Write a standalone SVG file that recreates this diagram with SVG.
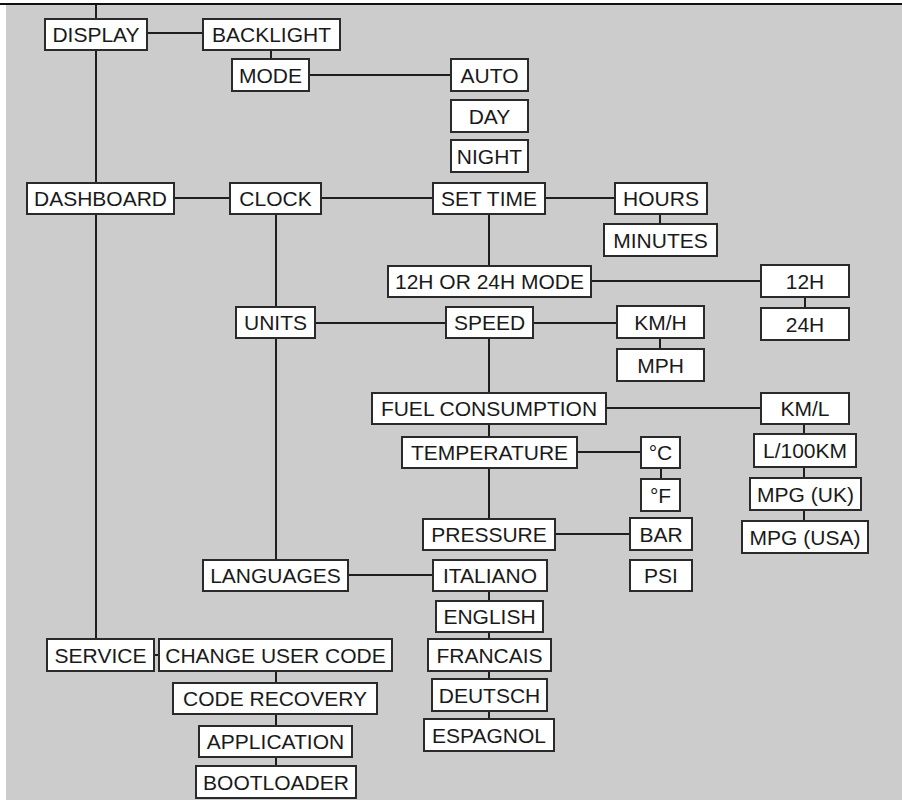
<svg xmlns="http://www.w3.org/2000/svg" width="902" height="800" viewBox="0 0 902 800">
<style>
.n rect{fill:#fff;stroke:#2a2a2a;stroke-width:2}
.n text{font-family:"Liberation Sans",Arial,sans-serif;font-size:21px;fill:#1a1a1a;text-anchor:middle}
#connectors line{stroke:#1e1e1e;stroke-width:2}
</style>
<rect x="0" y="0" width="902" height="800" fill="#fff"/>
<rect x="6" y="5" width="896" height="795" fill="#cccccc"/>
<line x1="0" y1="4" x2="902" y2="4" stroke="#111" stroke-width="2"/>
<g id="connectors">
<line x1="96" y1="5" x2="96" y2="19"/>
<line x1="96" y1="50" x2="96" y2="183"/>
<line x1="96" y1="214" x2="96" y2="639"/>
<line x1="147" y1="33" x2="203" y2="33"/>
<line x1="271" y1="50" x2="271" y2="59"/>
<line x1="309" y1="75" x2="451" y2="75"/>
<line x1="174" y1="198" x2="230" y2="198"/>
<line x1="321" y1="198" x2="433" y2="198"/>
<line x1="545" y1="198" x2="615" y2="198"/>
<line x1="660" y1="214" x2="660" y2="224"/>
<line x1="489" y1="214" x2="489" y2="266"/>
<line x1="591" y1="281" x2="761" y2="281"/>
<line x1="805" y1="297" x2="805" y2="308"/>
<line x1="276" y1="214" x2="276" y2="307"/>
<line x1="315" y1="323" x2="446" y2="323"/>
<line x1="533" y1="323" x2="617" y2="323"/>
<line x1="660" y1="338" x2="660" y2="349"/>
<line x1="489" y1="338" x2="489" y2="393"/>
<line x1="606" y1="408" x2="761" y2="408"/>
<line x1="804" y1="424" x2="804" y2="434"/>
<line x1="804" y1="467" x2="804" y2="478"/>
<line x1="804" y1="510" x2="804" y2="521"/>
<line x1="489" y1="424" x2="489" y2="437"/>
<line x1="577" y1="452" x2="641" y2="452"/>
<line x1="661" y1="468" x2="661" y2="479"/>
<line x1="489" y1="468" x2="489" y2="519"/>
<line x1="555" y1="534" x2="630" y2="534"/>
<line x1="276" y1="338" x2="276" y2="560"/>
<line x1="348" y1="575" x2="433" y2="575"/>
<line x1="489" y1="591" x2="489" y2="601"/>
<line x1="489" y1="632" x2="489" y2="639"/>
<line x1="489" y1="671" x2="489" y2="679"/>
<line x1="489" y1="711" x2="489" y2="719"/>
<line x1="154" y1="655" x2="159" y2="655"/>
<line x1="276" y1="671" x2="276" y2="683"/>
<line x1="276" y1="714" x2="276" y2="726"/>
<line x1="276" y1="757" x2="276" y2="766"/>
</g>
<g id="display" class="n"><rect x="45" y="19" width="102" height="31"/><text x="96" y="42">DISPLAY</text></g>
<g id="backlight" class="n"><rect x="203" y="19" width="137" height="31"/><text x="271.5" y="42">BACKLIGHT</text></g>
<g id="mode" class="n"><rect x="232" y="59" width="77" height="32"/><text x="270.5" y="83">MODE</text></g>
<g id="auto" class="n"><rect x="451" y="59" width="77" height="32"/><text x="489.5" y="83">AUTO</text></g>
<g id="day" class="n"><rect x="451" y="100" width="77" height="32"/><text x="489.5" y="124">DAY</text></g>
<g id="night" class="n"><rect x="451" y="140" width="77" height="32"/><text x="489.5" y="164">NIGHT</text></g>
<g id="dashboard" class="n"><rect x="27" y="183" width="147" height="31"/><text x="100.5" y="206">DASHBOARD</text></g>
<g id="clock" class="n"><rect x="230" y="183" width="91" height="31"/><text x="275.5" y="206">CLOCK</text></g>
<g id="settime" class="n"><rect x="433" y="183" width="112" height="31"/><text x="489" y="206">SET TIME</text></g>
<g id="hours" class="n"><rect x="615" y="183" width="92" height="31"/><text x="661" y="206">HOURS</text></g>
<g id="minutes" class="n"><rect x="604" y="224" width="113" height="32"/><text x="660.5" y="248">MINUTES</text></g>
<g id="mode1224" class="n"><rect x="388" y="266" width="203" height="31"/><text x="489.5" y="289">12H OR 24H MODE</text></g>
<g id="h12" class="n"><rect x="761" y="265" width="88" height="32"/><text x="805" y="289">12H</text></g>
<g id="h24" class="n"><rect x="761" y="308" width="88" height="32"/><text x="805" y="332">24H</text></g>
<g id="units" class="n"><rect x="236" y="307" width="79" height="31"/><text x="275.5" y="330">UNITS</text></g>
<g id="speed" class="n"><rect x="446" y="307" width="87" height="31"/><text x="489.5" y="330">SPEED</text></g>
<g id="kmh" class="n"><rect x="617" y="306" width="87" height="32"/><text x="660.5" y="330">KM/H</text></g>
<g id="mph" class="n"><rect x="617" y="349" width="87" height="32"/><text x="660.5" y="373">MPH</text></g>
<g id="fuel" class="n"><rect x="372" y="393" width="234" height="31"/><text x="489" y="416">FUEL CONSUMPTION</text></g>
<g id="kml" class="n"><rect x="761" y="393" width="88" height="31"/><text x="805" y="416">KM/L</text></g>
<g id="l100km" class="n"><rect x="754" y="434" width="102" height="33"/><text x="805" y="458">L/100KM</text></g>
<g id="mpguk" class="n"><rect x="750" y="478" width="111" height="32"/><text x="805.5" y="502">MPG (UK)</text></g>
<g id="mpgusa" class="n"><rect x="742" y="521" width="126" height="32"/><text x="805" y="545">MPG (USA)</text></g>
<g id="temperature" class="n"><rect x="402" y="437" width="175" height="31"/><text x="489.5" y="460">TEMPERATURE</text></g>
<g id="degc" class="n"><rect x="641" y="437" width="39" height="31"/><text x="660.5" y="460">°C</text></g>
<g id="degf" class="n"><rect x="641" y="479" width="39" height="32"/><text x="660.5" y="503">°F</text></g>
<g id="pressure" class="n"><rect x="423" y="519" width="132" height="31"/><text x="489" y="542">PRESSURE</text></g>
<g id="bar" class="n"><rect x="630" y="518" width="62" height="32"/><text x="661" y="542">BAR</text></g>
<g id="psi" class="n"><rect x="630" y="560" width="62" height="31"/><text x="661" y="583">PSI</text></g>
<g id="languages" class="n"><rect x="203" y="560" width="145" height="31"/><text x="275.5" y="583">LANGUAGES</text></g>
<g id="italiano" class="n"><rect x="433" y="560" width="114" height="31"/><text x="490" y="583">ITALIANO</text></g>
<g id="english" class="n"><rect x="436" y="601" width="107" height="31"/><text x="489.5" y="624">ENGLISH</text></g>
<g id="francais" class="n"><rect x="428" y="639" width="123" height="32"/><text x="489.5" y="663">FRANCAIS</text></g>
<g id="deutsch" class="n"><rect x="432" y="679" width="115" height="32"/><text x="489.5" y="703">DEUTSCH</text></g>
<g id="espagnol" class="n"><rect x="424" y="719" width="130" height="32"/><text x="489" y="743">ESPAGNOL</text></g>
<g id="service" class="n"><rect x="47" y="639" width="107" height="32"/><text x="100.5" y="663">SERVICE</text></g>
<g id="changeusercode" class="n"><rect x="159" y="639" width="233" height="32"/><text x="275.5" y="663">CHANGE USER CODE</text></g>
<g id="coderecovery" class="n"><rect x="173" y="683" width="204" height="31"/><text x="275" y="706">CODE RECOVERY</text></g>
<g id="application" class="n"><rect x="199" y="726" width="153" height="31"/><text x="275.5" y="749">APPLICATION</text></g>
<g id="bootloader" class="n"><rect x="196" y="766" width="160" height="32"/><text x="276" y="790">BOOTLOADER</text></g>
</svg>
